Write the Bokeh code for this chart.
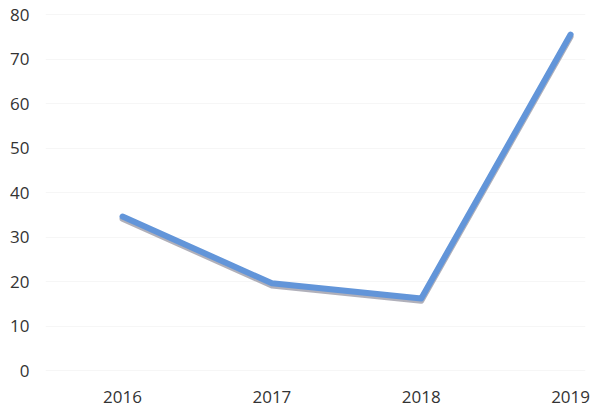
from bokeh.plotting import figure
from bokeh.models import FixedTicker, Range1d
from bokeh.embed import file_html
from bokeh.resources import INLINE

years = [2016, 2017, 2018, 2019]
values = [34.6, 19.6, 16.2, 75.5]
y_ticks = [0, 10, 20, 30, 40, 50, 60, 70, 80]
x_labels = {2016: "2016", 2017: "2017", 2018: "2018", 2019: "2019"}

p = figure(width=595, height=411, output_backend="svg", toolbar_location=None,
           x_range=Range1d(2015.484, 2019.1), y_range=Range1d(-0.67, 80.9),
           min_border_left=45, min_border_right=10, min_border_top=10, min_border_bottom=38)
p.outline_line_color = None
p.background_fill_color = "white"

# shadow of the line (scanned print look)
shadow = [v - 0.5 for v in values]
p.line(years, shadow, line_width=6, line_color="#8f8f9c", line_alpha=0.7,
       line_join="round", line_cap="round")
p.line(years, values, line_width=6, line_color="#6295d9",
       line_join="round", line_cap="round")

p.xgrid.visible = False
p.ygrid.ticker = FixedTicker(ticks=y_ticks)
p.ygrid.grid_line_color = "#f6f6f6"

for ax in (p.xaxis[0], p.yaxis[0]):
    ax.axis_line_color = None
    ax.major_tick_line_color = None
    ax.minor_tick_line_color = None
    ax.major_tick_out = 0
    ax.major_tick_in = 0
    ax.major_label_text_font = "Open Sans"
    ax.major_label_text_font_size = "17px"
    ax.major_label_text_color = "#333333"

p.yaxis.ticker = FixedTicker(ticks=y_ticks)
p.yaxis.major_label_standoff = 16
p.xaxis.ticker = FixedTicker(ticks=years)
p.xaxis.major_label_overrides = x_labels
p.xaxis.major_label_standoff = 17

open("out.html", "w").write(file_html(p, INLINE))
